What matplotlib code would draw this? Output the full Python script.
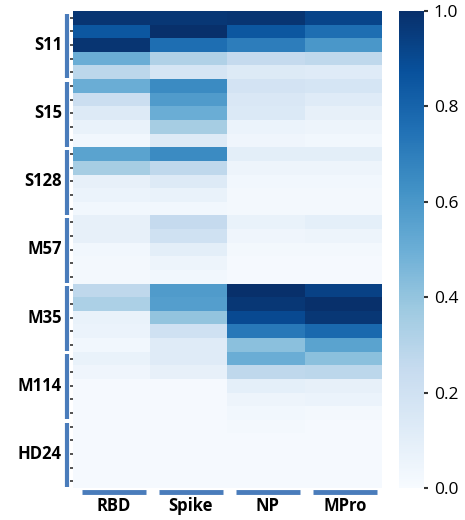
import numpy as np
import matplotlib
matplotlib.use("Agg")
import matplotlib.pyplot as plt
import matplotlib.transforms as mtransforms
from matplotlib.lines import Line2D

plt.rcParams['font.family'] = ['Open Sans', 'DejaVu Sans']

columns = ["RBD", "Spike", "NP", "MPro"]
groups = ["S11", "S15", "S128", "M57", "M35", "M114", "HD24"]

S11 = [[0.98, 0.97, 0.98, 0.92],
       [0.85, 1.00, 0.85, 0.76],
       [0.98, 0.76, 0.70, 0.60],
       [0.50, 0.32, 0.25, 0.27],
       [0.28, 0.17, 0.13, 0.12]]
S15 = [[0.50, 0.65, 0.18, 0.17],
       [0.22, 0.58, 0.15, 0.12],
       [0.13, 0.50, 0.14, 0.08],
       [0.07, 0.35, 0.06, 0.05],
       [0.03, 0.13, 0.04, 0.03]]
S128 = [[0.55, 0.65, 0.10, 0.10],
        [0.35, 0.27, 0.05, 0.05],
        [0.08, 0.13, 0.03, 0.03],
        [0.06, 0.07, 0.02, 0.02],
        [0.03, 0.03, 0.02, 0.02]]
M57 = [[0.08, 0.25, 0.07, 0.09],
       [0.08, 0.20, 0.04, 0.05],
       [0.03, 0.10, 0.02, 0.02],
       [0.02, 0.05, 0.01, 0.01],
       [0.02, 0.03, 0.01, 0.01]]
M35 = [[0.27, 0.58, 1.00, 0.93],
       [0.33, 0.57, 0.97, 1.00],
       [0.07, 0.40, 0.90, 0.97],
       [0.06, 0.20, 0.72, 0.78],
       [0.03, 0.12, 0.42, 0.55]]
M114 = [[0.07, 0.12, 0.50, 0.42],
        [0.04, 0.08, 0.27, 0.28],
        [0.01, 0.01, 0.09, 0.08],
        [0.01, 0.01, 0.05, 0.06],
        [0.01, 0.01, 0.03, 0.02]]
HD24 = [[0.01, 0.01, 0.02, 0.01],
        [0.01, 0.01, 0.01, 0.01],
        [0.01, 0.01, 0.01, 0.01],
        [0.01, 0.01, 0.01, 0.01],
        [0.01, 0.01, 0.01, 0.01]]

group_data = [S11, S15, S128, M57, M35, M114, HD24]
data = np.vstack([np.array(g) for g in group_data])
n_rows, n_cols = data.shape
per_group = 5

bar_color = "#4a7cbb"

fig = plt.figure(figsize=(4.65, 5.2), dpi=100)
ax = fig.add_axes([73/465, 1-488/520, 308/465, 477/520])
im = ax.imshow(data, cmap="Blues", vmin=0, vmax=1, aspect="auto",
               interpolation="nearest")

ax.set_xticks([])
ax.set_yticks(np.arange(n_rows))
ax.set_yticklabels([])
ax.tick_params(axis='y', length=2, width=1.2, color="#333333", direction="out", pad=0)
for s in ax.spines.values():
    s.set_visible(False)

blend = mtransforms.blended_transform_factory(ax.transAxes, ax.transData)
for i, g in enumerate(groups):
    top = i*per_group - 0.5
    bot = top + per_group
    center = (top + bot) / 2
    ax.add_line(Line2D([-0.018, -0.018], [top + 0.2, bot - 0.05], color=bar_color, lw=3,
                       solid_capstyle="butt", transform=blend, clip_on=False))
    ax.text(-0.036, center, g, transform=blend, ha="right", va="center",
            fontsize=12, fontweight="bold")

blendx = mtransforms.blended_transform_factory(ax.transData, ax.transAxes)
for j, c in enumerate(columns):
    ax.add_line(Line2D([j - 0.5 + 0.12, j + 0.5 - 0.05], [-0.009, -0.009], color=bar_color,
                       lw=3.5, solid_capstyle="butt", transform=blendx, clip_on=False))
    ax.text(j + 0.03, -0.038, c, transform=blendx, ha="center", va="center",
            fontsize=12, fontweight="bold")

cax = fig.add_axes([399/465, 1-488/520, 25/465, 477/520])
cb = fig.colorbar(im, cax=cax, ticks=[0, 0.2, 0.4, 0.6, 0.8, 1.0])
cb.outline.set_visible(False)
cb.ax.set_yticklabels(["0.0", "0.2", "0.4", "0.6", "0.8", "1.0"])
cb.ax.tick_params(length=3, width=1.5, color="#333333", labelsize=12.5, pad=4)

fig.savefig("out.png", dpi=100)
